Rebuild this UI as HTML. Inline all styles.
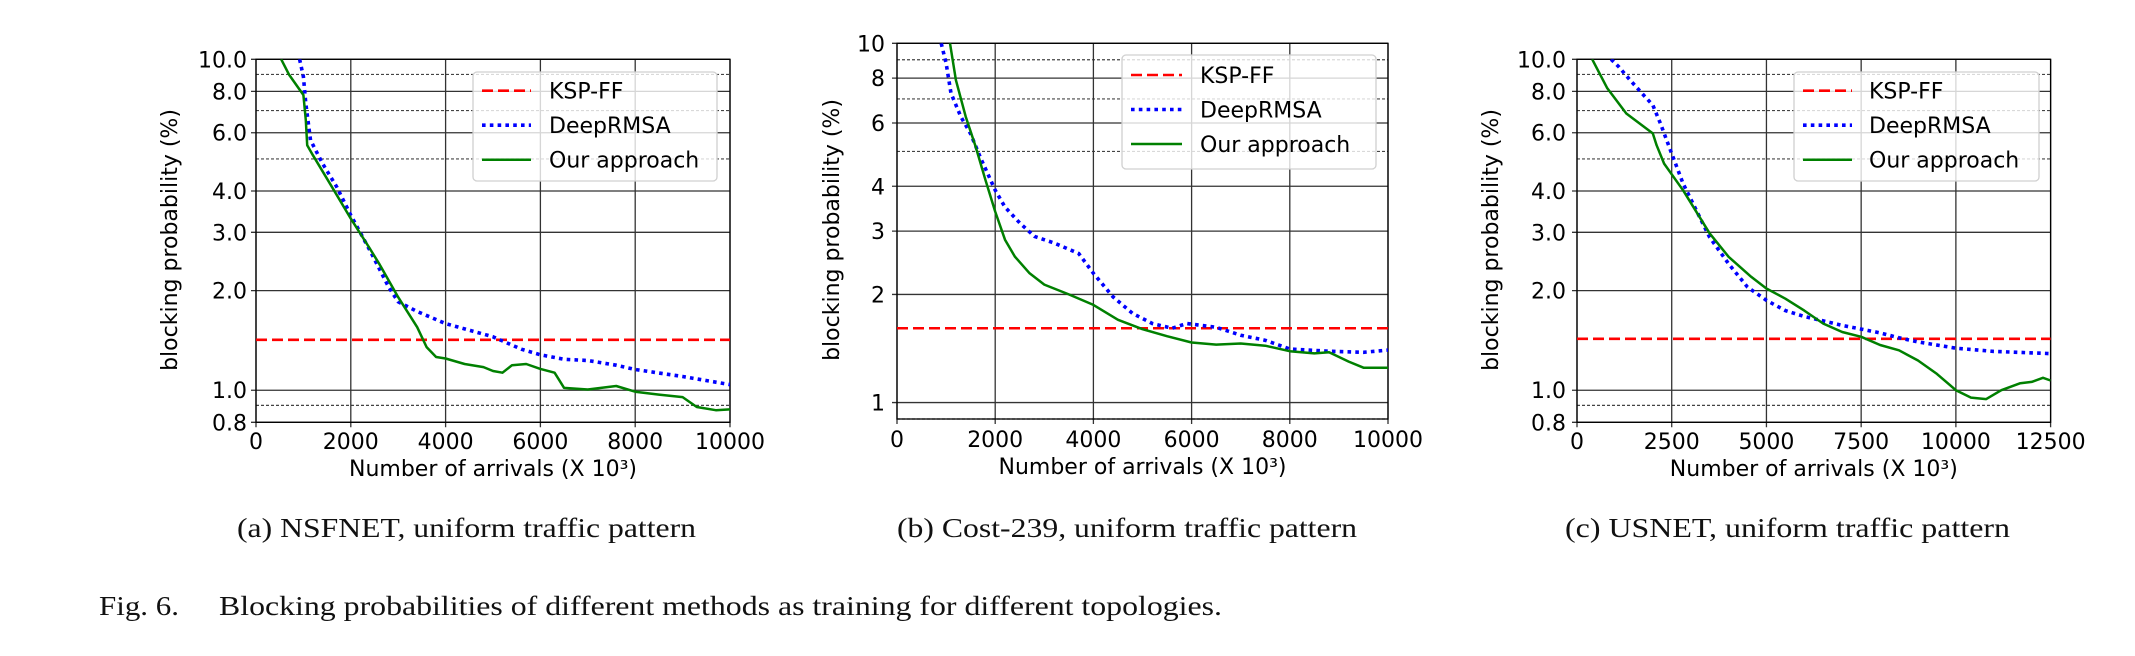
<!DOCTYPE html>
<html><head><meta charset="utf-8">
<style>
html,body{margin:0;padding:0;background:#fff;}
svg{display:block;}
text{font-family:"DejaVu Sans","Liberation Sans",sans-serif;fill:#000;}
.serif{font-family:"Liberation Serif","DejaVu Serif",serif;fill:#111;}
</style></head>
<body>
<svg id="fig" width="2135" height="656" viewBox="0 0 2135 656" xmlns="http://www.w3.org/2000/svg">
<rect width="2135" height="656" fill="#fff"/>
<text class="serif" x="237" y="537" font-size="27" textLength="459" lengthAdjust="spacingAndGlyphs">(a) NSFNET, uniform traffic pattern</text>
<text class="serif" x="897" y="537" font-size="27" textLength="460" lengthAdjust="spacingAndGlyphs">(b) Cost-239, uniform traffic pattern</text>
<text class="serif" x="1565" y="537" font-size="27" textLength="445" lengthAdjust="spacingAndGlyphs">(c) USNET, uniform traffic pattern</text>
<text class="serif" x="99" y="615" font-size="27" textLength="80" lengthAdjust="spacingAndGlyphs">Fig. 6.</text>
<text class="serif" x="219" y="615" font-size="27" textLength="1003" lengthAdjust="spacingAndGlyphs">Blocking probabilities of different methods as training for different topologies.</text>
</svg>
<script>
// ---- Chart (a) NSFNET ----
const aX_green = [532,700,1000,1050,1080,1200,1600,2000,2400,2600,3000,3400,3600,3800,4000,4400,4800,5000,5200,5400,5700,6000,6300,6500,7000,7600,8000,8500,9000,9300,9700,10000];
const aY_green = [10,8.97,7.8,6.55,5.5,5.13,4.12,3.3,2.68,2.41,1.91,1.55,1.35,1.26,1.247,1.2,1.175,1.143,1.13,1.19,1.2,1.16,1.13,1.016,1.005,1.03,0.99,0.97,0.953,0.89,0.87,0.875];
const aX_blue = [920,1000,1050,1150,1400,1700,2000,2400,2800,3000,3400,4000,5000,5600,6000,6500,7000,7600,8000,9000,10000];
const aY_blue = [10,8.86,7.36,5.7,4.85,4.12,3.38,2.65,2.05,1.85,1.73,1.59,1.45,1.33,1.28,1.24,1.23,1.19,1.155,1.1,1.04];
const aKsp = [1.42];
const aXTicks = [0,2000,4000,6000,8000,10000];
const aYTicks = [10,8,6,4,3,2,1,0.8];
const aYTickLabels = ["10.0","8.0","6.0","4.0","3.0","2.0","1.0","0.8"];
const aYMinor = [9,7,5,0.9];

// ---- Chart (b) Cost-239 ----
const bX_green = [1080,1200,1400,1600,1800,2000,2200,2400,2700,3000,3500,4000,4500,5000,5500,6000,6500,7000,7500,8000,8500,8800,9200,9500,10000];
const bY_green = [10,7.9,6.25,5.16,4.17,3.4,2.84,2.55,2.29,2.13,2.0,1.87,1.7,1.6,1.53,1.47,1.45,1.46,1.44,1.39,1.37,1.38,1.3,1.25,1.25];
const bX_blue = [900,1000,1100,1300,1500,1700,2000,2200,2500,2800,3200,3700,4000,4400,4800,5200,5600,5900,6500,7000,7500,8000,8800,9500,10000];
const bY_blue = [10,8.8,7.26,6.25,5.6,4.8,3.9,3.5,3.16,2.9,2.78,2.6,2.29,1.97,1.77,1.66,1.61,1.66,1.62,1.54,1.49,1.41,1.39,1.38,1.4];
const bKsp = [1.61];
const bXTicks = [0,2000,4000,6000,8000,10000];
const bYTicks = [10,8,6,4,3,2,1];
const bYTickLabels = ["10","8","6","4","3","2","1"];
const bYMinor = [9,7,5,0.9];

// ---- Chart (c) USNET ----
const cX_green = [400,800,1300,2000,2100,2300,2800,3500,4000,4600,5000,5500,6000,6500,7000,7500,8000,8500,9000,9500,10000,10400,10800,11200,11700,12000,12300,12500];
const cY_green = [10,8.17,6.86,5.97,5.5,4.84,4.02,2.98,2.53,2.2,2.03,1.89,1.74,1.59,1.5,1.45,1.37,1.32,1.23,1.12,1.0,0.95,0.94,1.0,1.05,1.06,1.09,1.07];
const cX_blue = [900,1100,1400,1800,2000,2200,2500,2800,3500,4000,4500,5000,5500,6000,6500,7000,7500,8000,8500,9000,10000,11000,12500];
const cY_blue = [10,9.5,8.66,7.7,7.27,6.4,5.19,4.21,2.9,2.41,2.05,1.87,1.74,1.67,1.62,1.57,1.53,1.49,1.44,1.4,1.34,1.31,1.29];
const cKsp = [1.43];
const cXTicks = [0,2500,5000,7500,10000,12500];
const cYTicks = [10,8,6,4,3,2,1,0.8];
const cYTickLabels = ["10.0","8.0","6.0","4.0","3.0","2.0","1.0","0.8"];
const cYMinor = [9,7,5,0.9];

const legendLabels = ["KSP-FF","DeepRMSA","Our approach"];

const NS = "http://www.w3.org/2000/svg";
const svg = document.getElementById('fig');
function mk(tag, attrs, parent){
  const e = document.createElementNS(NS, tag);
  for (const k in attrs) e.setAttribute(k, attrs[k]);
  (parent||svg).appendChild(e);
  return e;
}

function drawChart(cfg){
  const g = mk('g', {});
  
  
  const L=cfg.left,R=cfg.right,T=cfg.top,B=cfg.bottom;
  const lmin=Math.log10(cfg.ymin), lmax=Math.log10(cfg.ymax);
  const sx = v => L + (v - cfg.xmin)/(cfg.xmax-cfg.xmin)*(R-L);
  const sy = v => B - (Math.log10(v)-lmin)/(lmax-lmin)*(B-T);
  const clip = mk('clipPath', {id: cfg.name+'-clip'}, g);
  mk('rect', {x:L, y:T, width:R-L, height:B-T}, clip);

  cfg.yMinor.forEach(v=>{
    const ln = mk('line',{x1:L,x2:R,y1:sy(v),y2:sy(v),stroke:'#444','stroke-width':1.2,'stroke-dasharray':'3,2'}, g);
    
    
  });
  cfg.xTicks.forEach(v=>{
    const ln = mk('line',{x1:sx(v),x2:sx(v),y1:T,y2:B+5,stroke:'#333','stroke-width':1.3}, g);
    
    
    const t = mk('text',{x:sx(v),y:cfg.xTickY,'font-size':22,'text-anchor':'middle'}, g);
    t.textContent = String(v);
    
    
  });
  cfg.yTicks.forEach((v,i)=>{
    const ln = mk('line',{x1:L-5,x2:R,y1:sy(v),y2:sy(v),stroke:'#333','stroke-width':1.3}, g);
    
    
    const t = mk('text',{x:cfg.yLabelRight,y:sy(v)+8,'font-size':22,'text-anchor':'end'}, g);
    t.textContent = cfg.yTickLabels[i];
    
    
  });
  const fr = mk('rect',{x:L,y:T,width:R-L,height:B-T,fill:'none',stroke:'#000','stroke-width':1.3}, g);
  
  

  const ksp = mk('line',{x1:L,x2:R,y1:sy(cfg.ksp[0]),y2:sy(cfg.ksp[0]),stroke:'#ff0000','stroke-width':2.6,'stroke-dasharray':'11,5'}, g);
  
  
  const pts = (xs,ys)=>xs.map((x,i)=>sx(x).toFixed(1)+','+sy(ys[i]).toFixed(1)).join(' ');
  const blue = mk('polyline',{points:pts(cfg.xb,cfg.yb),fill:'none',stroke:'#0000ff','stroke-width':3.6,'stroke-dasharray':'3.6,4.2','clip-path':'url(#'+cfg.name+'-clip)'}, g);
  
  
  const green = mk('polyline',{points:pts(cfg.xg,cfg.yg),fill:'none',stroke:'#008000','stroke-width':2.5,'stroke-linejoin':'round','clip-path':'url(#'+cfg.name+'-clip)'}, g);
  
  

  const lg = mk('g',{}, g);
  
  
  mk('rect',{x:cfg.lgX,y:cfg.lgY,width:cfg.lgW,height:cfg.lgH,rx:4,fill:'#fff','fill-opacity':0.8,stroke:'#d0d0d0','stroke-width':1.3}, lg);
  const styles = [
    {stroke:'#ff0000','stroke-width':2.6,'stroke-dasharray':'11,5'},
    {stroke:'#0000ff','stroke-width':3.6,'stroke-dasharray':'3.6,4.2'},
    {stroke:'#008000','stroke-width':2.5}
  ];
  const names=['legend-entry-ksp-ff','legend-entry-deeprmsa','legend-entry-our-approach'];
  legendLabels.forEach((lab,i)=>{
    const y = cfg.lgRow0 + i*34.5;
    const eg = mk('g',{}, lg);
    
    
    mk('line',Object.assign({x1:cfg.lgLine0,x2:cfg.lgLine1,y1:y,y2:y},styles[i]), eg);
    const t = mk('text',{x:cfg.lgText,y:y+8,'font-size':22}, eg);
    t.textContent = lab;
  });

  const xt = mk('text',{x:(L+R)/2,y:cfg.xTitleY,'font-size':22,'text-anchor':'middle'}, g);
  xt.textContent = 'Number of arrivals (X 10³)';
  
  
  const yt = mk('text',{x:0,y:0,'font-size':22,'text-anchor':'middle',transform:'translate('+(cfg.yTitleX+8)+','+cfg.yTitleY+') rotate(-90)'}, g);
  yt.textContent = 'blocking probability (%)';
  
  
}

drawChart({name:'chart-nsfnet',left:256,right:730,top:59.3,bottom:422.3,xmin:0,xmax:10000,ymin:0.8,ymax:10,
  xg:aX_green,yg:aY_green,xb:aX_blue,yb:aY_blue,ksp:aKsp,xTicks:aXTicks,yTicks:aYTicks,yTickLabels:aYTickLabels,yMinor:aYMinor,
  xTickY:449,yLabelRight:247,xTitleY:476,yTitleX:169,yTitleY:240,
  lgX:473,lgY:72,lgW:244,lgH:109,lgRow0:90.7,lgLine0:482,lgLine1:531,lgText:549});
drawChart({name:'chart-cost239',left:897,right:1388,top:43.3,bottom:419,xmin:0,xmax:10000,ymin:0.9,ymax:10,
  xg:bX_green,yg:bY_green,xb:bX_blue,yb:bY_blue,ksp:bKsp,xTicks:bXTicks,yTicks:bYTicks,yTickLabels:bYTickLabels,yMinor:bYMinor,
  xTickY:447,yLabelRight:885,xTitleY:474,yTitleX:831,yTitleY:230,
  lgX:1122,lgY:55,lgW:254,lgH:114,lgRow0:75,lgLine0:1131,lgLine1:1182,lgText:1200});
drawChart({name:'chart-usnet',left:1577,right:2050.6,top:59.3,bottom:422.3,xmin:0,xmax:12500,ymin:0.8,ymax:10,
  xg:cX_green,yg:cY_green,xb:cX_blue,yb:cY_blue,ksp:cKsp,xTicks:cXTicks,yTicks:cYTicks,yTickLabels:cYTickLabels,yMinor:cYMinor,
  xTickY:449,yLabelRight:1566,xTitleY:476,yTitleX:1490,yTitleY:240,
  lgX:1794,lgY:72,lgW:245,lgH:109,lgRow0:90.7,lgLine0:1803,lgLine1:1852,lgText:1869});
</script>
</body></html>
